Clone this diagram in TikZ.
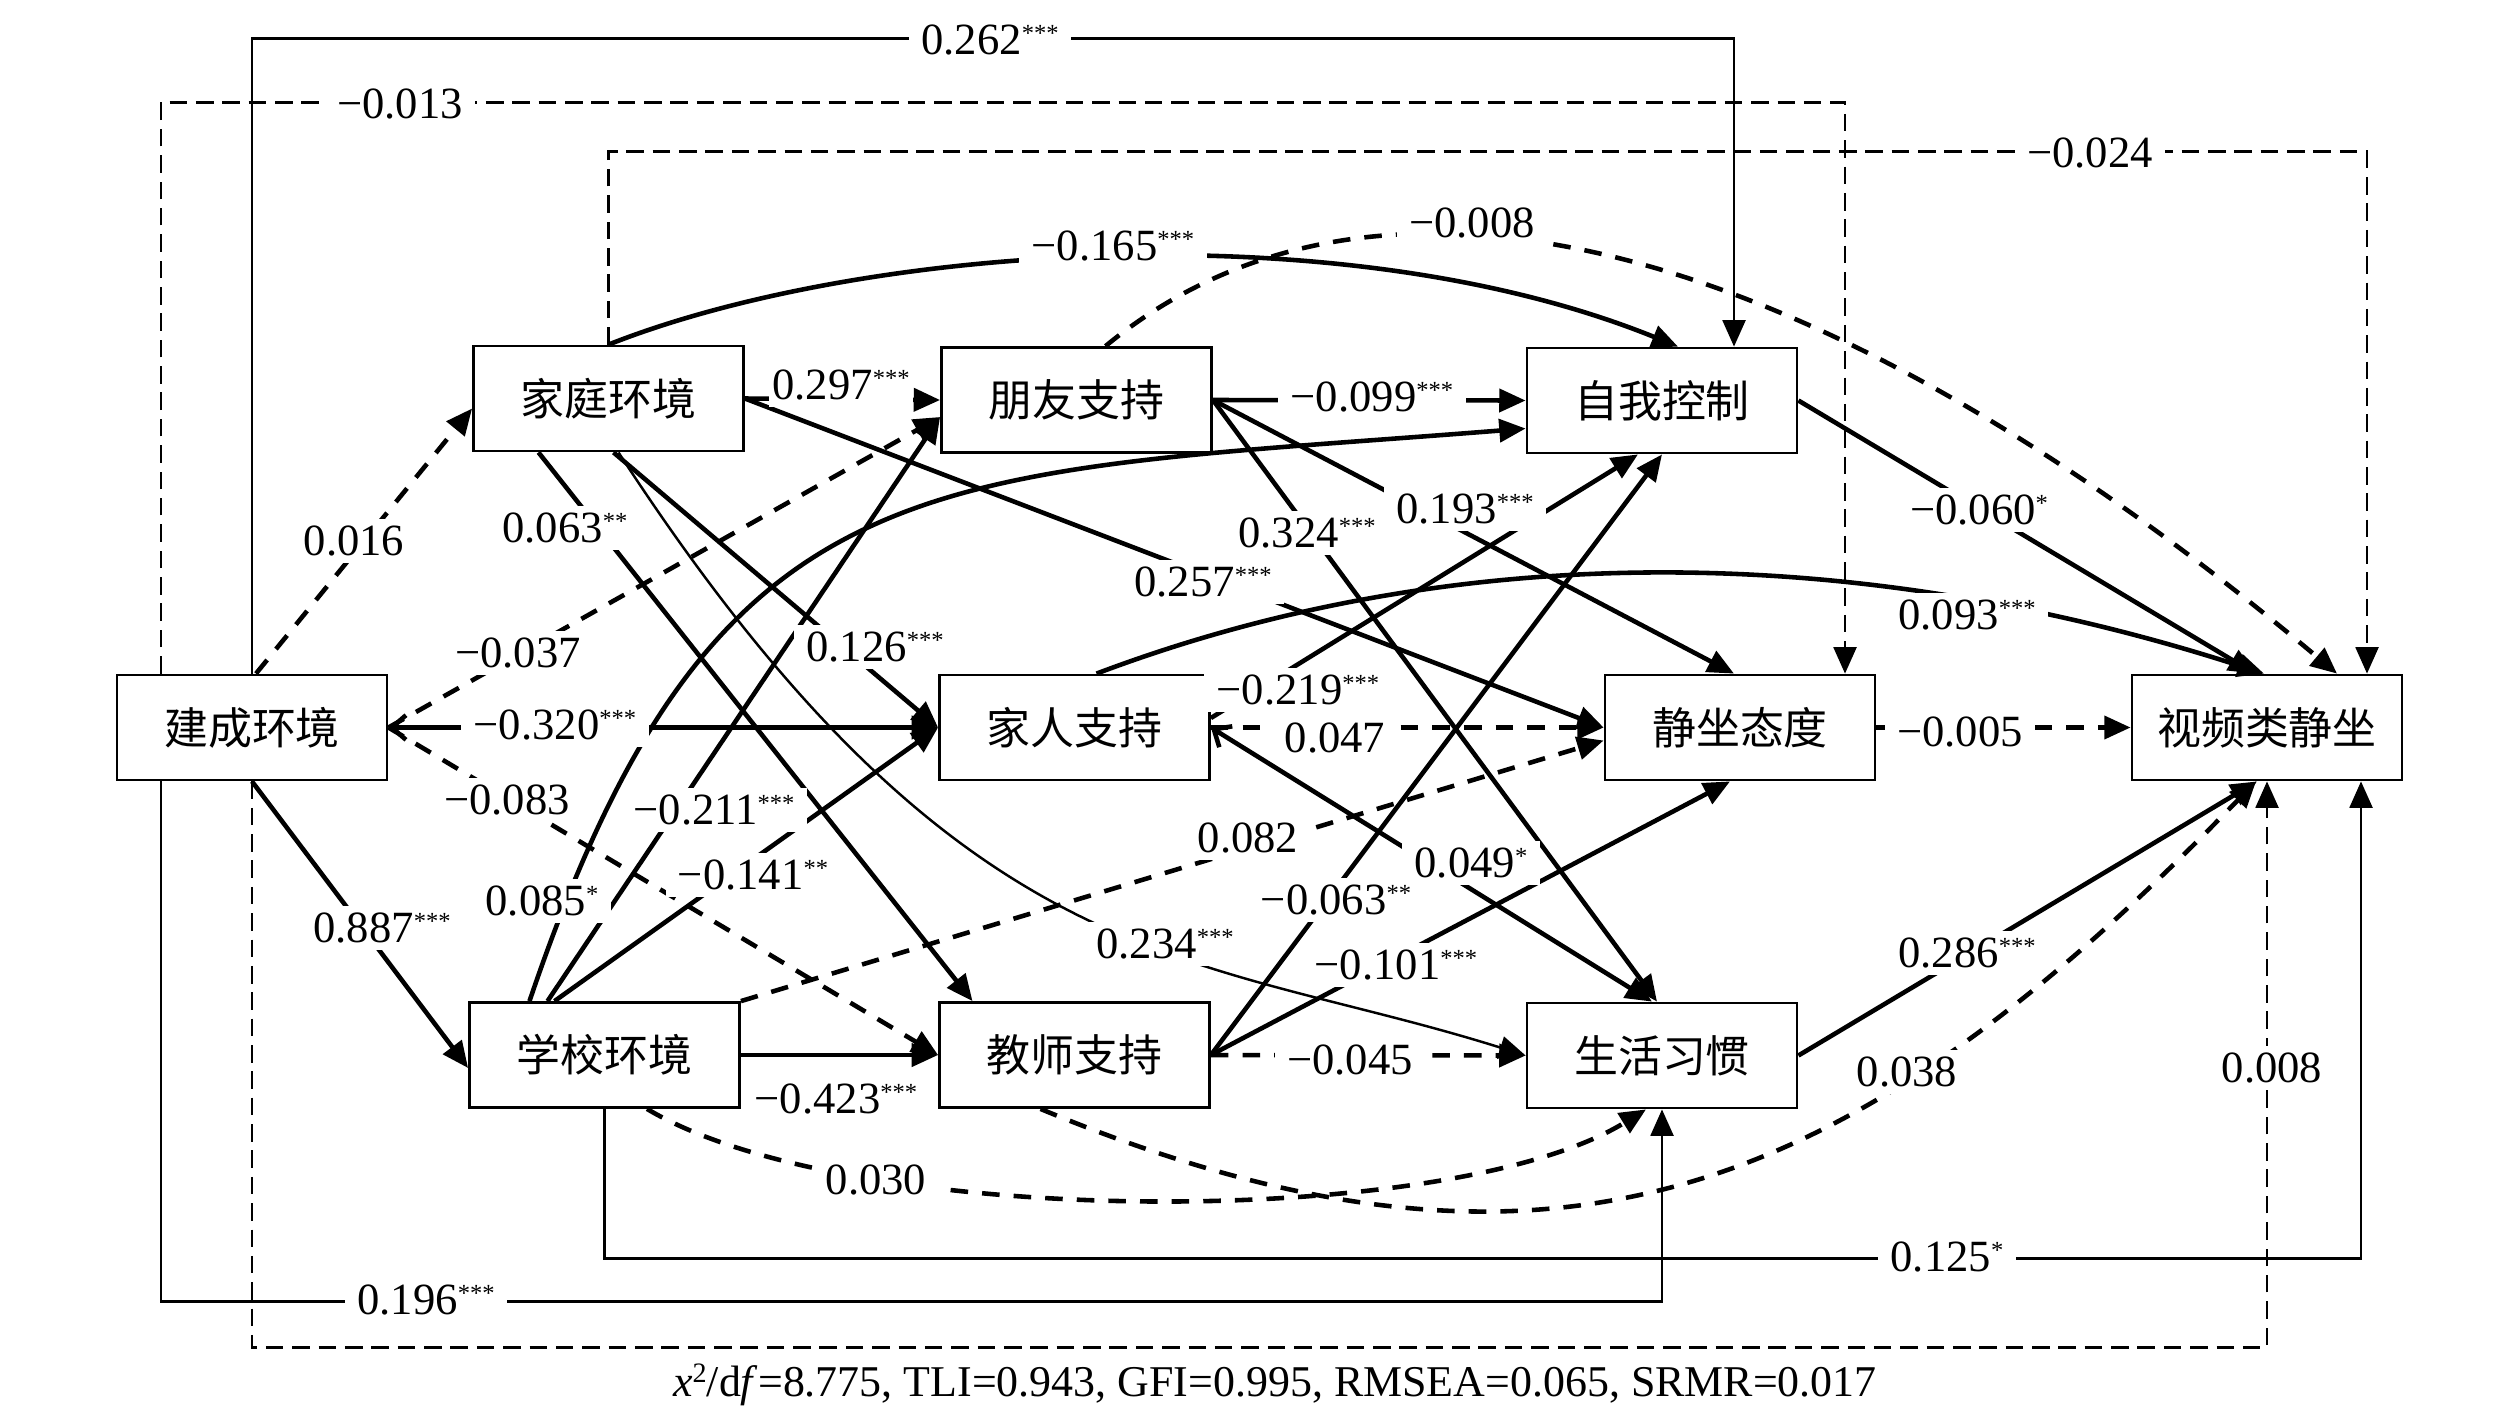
\documentclass[tikz,border=0pt]{standalone}
\usepackage{fontspec}
\setmainfont{Liberation Serif}
\newfontfamily\cjk{Noto Sans CJK SC}
\usetikzlibrary{arrows.meta}
\newcommand\sig[1]{\raisebox{3.6pt}{\fontsize{7}{7}\selectfont #1}}

\begin{document}
\begin{tikzpicture}[
  box/.style={draw,line width=0.8pt,minimum width=2.7cm,minimum height=1.05cm,inner sep=0pt,font=\cjk\fontsize{12.5}{15}\selectfont},
  lab/.style={fill=white,inner xsep=3.5pt,inner ysep=2pt,font=\fontsize{12.7}{15}\selectfont},
  sol/.style={line width=1.3pt,-{Triangle[length=7.5pt,width=6.5pt]}},
  dsh/.style={sol,dash pattern=on 5pt off 4pt},
  ln/.style={line width=0.7pt,-{Triangle[length=7.5pt,width=6.5pt]}},
  lnd/.style={ln,dash pattern=on 5pt off 2.5pt},
  both/.style={sol,{Straight Barb[length=4pt,width=7pt]}-{Triangle[length=7.5pt,width=6.5pt]}}]
\useasboundingbox (0,0) rectangle (25.2,-14.14);

%boxes
\node[box] (JC) at (2.52,-7.275) {建成环境};
\node[box] (JT) at (6.085,-3.985) {家庭环境};
\node[box] (XX) at (6.045,-10.55) {学校环境};
\node[box] (PY) at (10.765,-4.0) {朋友支持};
\node[box] (JR) at (10.745,-7.275) {家人支持};
\node[box] (JS) at (10.745,-10.55) {教师支持};
\node[box] (ZW) at (16.62,-4.005) {自我控制};
\node[box] (JZ) at (17.40,-7.275) {静坐态度};
\node[box] (SH) at (16.62,-10.555) {生活习惯};
\node[box] (SP) at (22.67,-7.275) {视频类静坐};

%outer elbow paths
\draw[ln] (JC.north) -- ++(0,6.35) -| ([xshift=7.2mm]ZW.north);
\draw[lnd] ([xshift=-9.1mm]JC.north) -- ++(0,5.713) -| ([xshift=10.5mm]JZ.north);
\draw[lnd] (JT.north) -- ++(0,1.93) -| ([xshift=10mm]SP.north);
\draw[ln] ([xshift=-9.1mm]JC.south) -- ++(0,-5.2) -| (SH.south);
\draw[ln] (XX.south) -- ++(0,-1.495) -| ([xshift=9.4mm]SP.south);
\draw[lnd] (JC.south) -- ++(0,-5.66) -| (SP.south);

%from built environment
\draw[dsh] ([xshift=0.4mm]JC.north) -- ([yshift=-1mm]JT.west);
\draw[dsh] (JC.east) -- ([yshift=-1.7mm]PY.west);
\draw[both] (JC.east) -- (JR.west);
\draw[dsh] (JC.east) -- (JS.west);
\draw[sol] (JC.south) -- ([yshift=-1.3mm]XX.west);

%from family environment
\draw[sol] (JT.east) -- (PY.west);
\draw[sol] (JT.east) -- (JZ.west);
\draw[sol] ([xshift=0.5mm]JT.south) -- (JR.west);
\draw[sol] ([xshift=-7mm]JT.south) -- ([xshift=-10.2mm]JS.north);
\draw[ln] ([xshift=1mm]JT.south) .. controls (9.64,-9.84) and (11.93,-9.51) .. (SH.west);
\draw[sol] (JT.north) .. controls (8.6,-2.45) and (13.4,-2.1) .. ([xshift=1.6mm]ZW.north);

%from school environment
\draw[sol] ([xshift=-5.7mm]XX.north) -- ([yshift=-1.7mm]PY.west);
\draw[sol] ([xshift=-5mm]XX.north) -- (JR.west);
\draw[sol] ([xshift=-7.5mm]XX.north) .. controls (7.16,-4.5) and (9.29,-4.76) .. ([yshift=-2.8mm]ZW.west);
\draw[dsh] (XX.north east) -- ([yshift=-1.3mm]JZ.west);
\draw[sol] (XX.east) -- (JS.west);
\draw[dsh] ([xshift=4.25mm]XX.south) .. controls (8.5,-12.3) and (14.5,-12.3) .. ([xshift=-1.6mm]SH.south);

%from supports
\draw[dsh] ([xshift=2.9mm]PY.north) .. controls (13.8,-1.2) and (18.2,-2.4) .. ([xshift=7mm]SP.north);
\draw[sol] (PY.east) -- (ZW.west);
\draw[sol] (PY.east) -- ([xshift=-0.6mm]JZ.north);
\draw[sol] (PY.east) -- ([xshift=-0.5mm]SH.north);
\draw[sol] ([xshift=2.2mm]JR.north) .. controls (14.5,-5.4) and (18.5,-5.4) .. ([xshift=-0.3mm]SP.north);
\draw[sol] ([yshift=0.95mm]JR.east) -- ([xshift=-2.4mm]ZW.south);
\draw[dsh] (JR.east) -- (JZ.west);
\draw[both] (JR.east) -- ([xshift=-1mm]SH.north);
\draw[dsh] ([xshift=-3.4mm]JS.south) .. controls (15.5,-13.2) and (18.5,-12.0) .. ([xshift=-1.1mm]SP.south);
\draw[dsh] (JS.east) -- (SH.west);
\draw[sol] (JS.east) -- (ZW.south);
\draw[sol] (JS.east) -- ([xshift=-1mm]JZ.south);

%to video sedentary
\draw[sol] (ZW.east) -- ([xshift=-1.2mm]SP.north);
\draw[dsh] (JZ.east) -- (SP.west);
\draw[sol] (SH.east) -- ([xshift=-1mm]SP.south);

%path coefficients
\node[lab] (c262) at (9.9,-0.40) {0.262\sig{***}};
\node[lab] (c013) at (4.0,-1.037) {−0.013};
\node[lab] (c024) at (20.9,-1.53) {−0.024};
\node[lab] (c165) at (11.13,-2.46) {−0.165\sig{***}};
\node[lab] (c008a) at (14.72,-2.23) {−0.008};
\node[lab,inner xsep=1pt] (c297) at (8.41,-3.85) {0.297\sig{***}};
\node[lab] (c099) at (13.72,-3.97) {−0.099\sig{***}};
\node[lab] (c016) at (3.54,-5.41) {0.016};
\node[lab] (c063a) at (5.65,-5.28) {0.063\sig{**}};
\node[lab] (c324) at (13.07,-5.33) {0.324\sig{***}};
\node[lab] (c193) at (14.65,-5.09) {0.193\sig{***}};
\node[lab] (c257) at (12.03,-5.82) {0.257\sig{***}};
\node[lab] (c060) at (19.79,-5.10) {−0.060\sig{*}};
\node[lab] (c093) at (19.67,-6.15) {0.093\sig{***}};
\node[lab] (c126) at (8.75,-6.47) {0.126\sig{***}};
\node[lab] (c037) at (5.18,-6.53) {−0.037};
\node[lab] (c320) at (5.55,-7.25) {−0.320\sig{***}};
\node[lab] (c219) at (12.98,-6.90) {−0.219\sig{***}};
\node[lab] (c047) at (13.35,-7.38) {0.047};
\node[lab] (c005) at (19.60,-7.32) {−0.005};
\node[lab] (c083) at (5.07,-8.00) {−0.083};
\node[lab] (c211) at (7.14,-8.10) {−0.211\sig{***}};
\node[lab] (c141) at (7.53,-8.75) {−0.141\sig{**}};
\node[lab] (c082) at (12.48,-8.38) {0.082};
\node[lab] (c049) at (14.71,-8.63) {0.049\sig{*}};
\node[lab] (c085) at (5.42,-9.01) {0.085\sig{*}};
\node[lab] (c887) at (3.82,-9.28) {0.887\sig{***}};
\node[lab] (c063b) at (13.36,-9.00) {−0.063\sig{**}};
\node[lab] (c234) at (11.65,-9.44) {0.234\sig{***}};
\node[lab] (c101) at (13.96,-9.65) {−0.101\sig{***}};
\node[lab] (c286) at (19.67,-9.53) {0.286\sig{***}};
\node[lab] (c423) at (8.36,-10.99) {−0.423\sig{***}};
\node[lab] (c045) at (13.50,-10.60) {−0.045};
\node[lab] (c038) at (19.07,-10.72) {0.038};
\node[lab] (c008b) at (22.72,-10.68) {0.008};
\node[lab] (c030) at (8.76,-11.80) {0.030};
\node[lab] (c125) at (19.47,-12.57) {0.125\sig{*}};
\node[lab] (c196) at (4.26,-13.0) {0.196\sig{***}};

%fit indices
\node[font=\fontsize{12.5}{15}\selectfont,inner sep=0pt] (fit) at (12.75,-13.85)
  {\textit{x}\raisebox{4pt}{\fontsize{8}{8}\selectfont 2}/d\textit{f}=8.775, TLI=0.943, GFI=0.995, RMSEA=0.065, SRMR=0.017};
\end{tikzpicture}
\end{document}
